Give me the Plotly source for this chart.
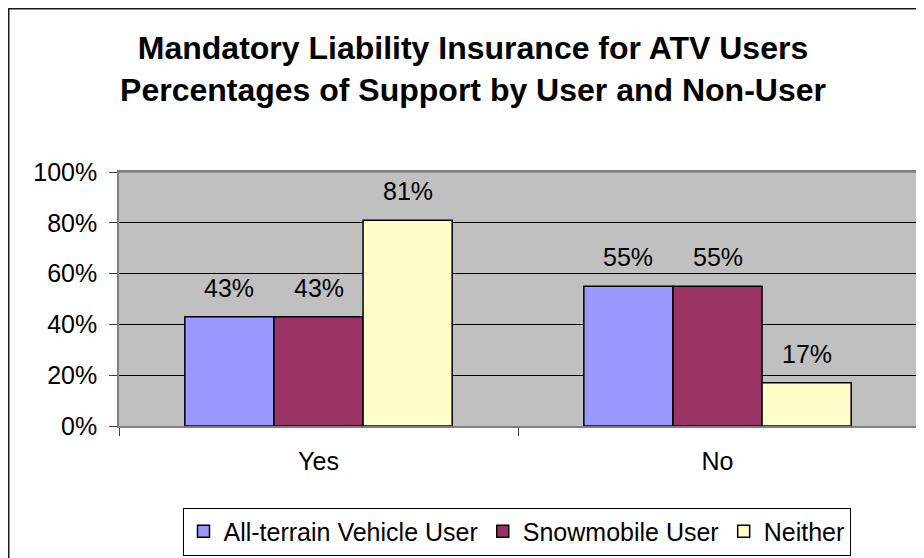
import plotly.graph_objects as go

categories = ["Yes", "No"]
series_names = ["All-terrain Vehicle User", "Snowmobile User", "Neither"]
atv_values = [0.43, 0.55]
snow_values = [0.43, 0.55]
neither_values = [0.81, 0.17]
colors = ["#9999FF", "#993366", "#FFFFCC"]
title_lines = ["Mandatory Liability Insurance for ATV Users",
               "Percentages of Support by User and Non-User"]

FONT = "Arial, Liberation Sans, sans-serif"
W, H = 924, 558
ML, MR, MT, MB = 111, 15, 164, 140
PW = W - ML - MR
PH = H - MT - MB
bargap = 0.33

def px_x(px):
    return (px - ML) / PW

def px_y(py):
    return (H - MB - py) / PH

all_series = [atv_values, snow_values, neither_values]
fig = go.Figure()
for name, vals, col in zip(series_names, all_series, colors):
    fig.add_trace(go.Bar(
        x=categories, y=vals, name=name,
        marker=dict(color=col, line=dict(color="#000000", width=1.5)),
        hoverinfo="skip",
    ))

bar_w = (1 - bargap) / len(all_series)
annotations = []
for j, vals in enumerate(all_series):
    for i, v in enumerate(vals):
        annotations.append(dict(
            x=i + (j - (len(all_series) - 1) / 2) * bar_w, y=v,
            xref="x", yref="y", text=f"{round(v*100)}%",
            showarrow=False, yanchor="bottom", yshift=13,
            font=dict(family=FONT, size=25, color="#000000"),
        ))

shapes = [
    # outer chart border (left and top visible)
    dict(type="rect", xref="paper", yref="paper",
         x0=px_x(0.75), x1=px_x(960), y0=px_y(600), y1=px_y(0.75),
         line=dict(color="#1a1a1a", width=1.5), fillcolor="rgba(0,0,0,0)", layer="below"),
    dict(type="line", xref="paper", yref="paper", x0=0, x1=1, y0=1, y1=1,
         line=dict(color="#808080", width=1.5), layer="above"),
]

fig.update_layout(
    template="none",
    width=W, height=H,
    margin=dict(l=ML, r=MR, t=MT, b=MB, autoexpand=False),
    paper_bgcolor="#FFFFFF",
    plot_bgcolor="#C0C0C0",
    barmode="group", bargap=bargap, bargroupgap=0,
    font=dict(family=FONT, size=25, color="#000000"),
    title=dict(text="<b>" + title_lines[0] + "<br>" + title_lines[1] + "</b>",
               x=465 / W, xanchor="center", xref="container",
               y=1 - 51 / H, yanchor="top", yref="container",
               font=dict(family=FONT, size=32, color="#000000")),
    xaxis=dict(
        type="category", showline=True, linecolor="#808080", linewidth=1.5,
        mirror=True, ticks="outside", tickson="boundaries", ticklen=8,
        tickcolor="#404040", tickwidth=1, showgrid=False, automargin=False,
        ticklabelstandoff=12, tickfont=dict(family=FONT, size=25),
    ),
    yaxis=dict(
        range=[0, 1], dtick=0.2, tickformat=".0%", showline=True,
        linecolor="#808080", linewidth=1.5, mirror=True, ticks="outside",
        ticklen=8, tickcolor="#404040", tickwidth=1, showgrid=True,
        gridcolor="#000000", gridwidth=1, zeroline=False, automargin=False,
        ticklabelstandoff=7, tickfont=dict(family=FONT, size=25),
    ),
    showlegend=True,
    legend=dict(
        orientation="h", x=px_x(508.5), xanchor="center", y=px_y(547.5), yanchor="bottom",
        bordercolor="#000000", borderwidth=1, bgcolor="#FFFFFF",
        font=dict(family=FONT, size=25), itemwidth=30,
        traceorder="normal",
    ),
    annotations=annotations,
    shapes=shapes,
)

fig.write_html("out.html")
